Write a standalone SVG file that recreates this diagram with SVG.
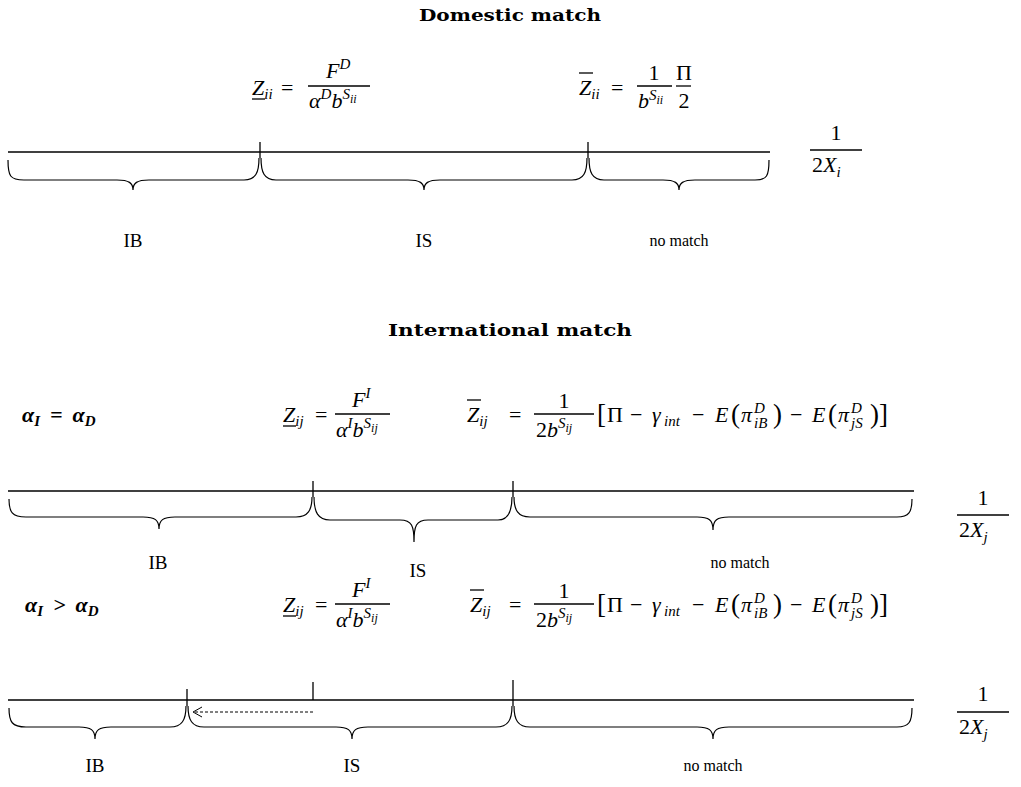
<svg xmlns="http://www.w3.org/2000/svg" width="1021" height="787" viewBox="0 0 1021 787">
<style>
.t{font-family:"DejaVu Serif","Liberation Serif",serif;font-weight:bold;font-size:17px;fill:#000;text-anchor:middle}
.lb{font-family:"Liberation Serif",serif;font-size:19px;fill:#000;text-anchor:middle}
.nm{font-family:"Liberation Serif",serif;font-size:16px;fill:#000;text-anchor:middle}
.m{font-family:"Liberation Serif",serif;font-style:italic;font-size:22px;fill:#000}
.r{font-family:"Liberation Serif",serif;font-size:22px;fill:#000}
.ab{font-family:"Liberation Serif",serif;font-style:italic;font-weight:bold;font-size:22px;fill:#000}
.c{text-anchor:middle}
.s{font-size:15px}
.ss{font-size:12px}
.big{font-size:27px}
.ln{stroke:#000;stroke-width:1.3;fill:none}
.br{stroke:#000;stroke-width:1.2;fill:none}
.fb{stroke:#000;stroke-width:1.3}
</style>
<defs>
<marker id="oa" markerWidth="12" markerHeight="12" refX="10" refY="6" orient="auto" markerUnits="userSpaceOnUse">
<path d="M1,1 L10,6 L1,11" fill="none" stroke="#000" stroke-width="1"/>
</marker>
</defs>

<g id="domestic">
<text class="t" x="510" y="21" textLength="182" lengthAdjust="spacingAndGlyphs">Domestic match</text>
<g id="eq-zii-low">
<text class="m" x="252" y="95">Z<tspan class="s" dy="4">ii</tspan></text>
<line class="fb" x1="252" y1="99" x2="265" y2="99"/>
<text class="r" x="281" y="95">=</text>
<line class="fb" x1="308" y1="86" x2="370" y2="86"/>
<text class="m" x="326" y="78">F<tspan class="s" dy="-9">D</tspan></text>
<text class="m" x="309" y="108">α<tspan class="s" dy="-9">D</tspan><tspan dy="9">b</tspan><tspan class="s" dy="-9">S</tspan><tspan class="ss" dy="4">ii</tspan></text>
</g>
<g id="eq-zii-high">
<text class="m" x="579" y="95">Z<tspan class="s" dy="4">ii</tspan></text>
<line class="fb" x1="579" y1="73" x2="593" y2="73"/>
<text class="r" x="611" y="95">=</text>
<line class="fb" x1="637" y1="86" x2="672" y2="86"/>
<text class="r c" x="654" y="80">1</text>
<text class="m" x="638" y="108">b<tspan class="s" dy="-8">S</tspan><tspan class="ss" dy="4">ii</tspan></text>
<line class="fb" x1="676" y1="86" x2="691" y2="86"/>
<text class="r c" x="684" y="80">Π</text>
<text class="r c" x="684" y="108">2</text>
</g>
<g id="frac-xi">
<text class="r c" x="836" y="140">1</text>
<line class="fb" x1="810" y1="150" x2="862" y2="150"/>
<text class="r" x="812" y="172">2<tspan font-style="italic">X</tspan><tspan class="s" font-style="italic" dy="5">i</tspan></text>
</g>
<g id="axis-1">
<line class="ln" x1="8" y1="152" x2="770" y2="152"/>
<line class="ln" x1="260" y1="142" x2="260" y2="158"/>
<line class="ln" x1="588" y1="142" x2="588" y2="158"/>
<path class="br" d="M8,160 C8,176 10,180 24,180 L117,180 C129,180 133,183 133,190 C133,183 137,180 149,180 L244,180 C256,180 259,172 259,158"/>
<path class="br" d="M261,158 C261,172 264,180 276,180 L408,180 C420,180 424,183 424,190 C424,183 428,180 440,180 L572,180 C584,180 587,172 587,158"/>
<path class="br" d="M589,158 C589,172 592,180 604,180 L663,180 C675,180 679,183 679,190 C679,183 683,180 695,180 L755,180 C767,180 769,176 769,160"/>
</g>
<text class="lb" x="133" y="247">IB</text>
<text class="lb" x="424" y="247">IS</text>
<text class="nm" x="679" y="246">no match</text>
</g>

<g id="international">
<text class="t" x="510" y="336" textLength="244" lengthAdjust="spacingAndGlyphs">International match</text>

<g id="case-equal">
<text class="ab" x="22" y="422">α<tspan class="s" dy="4">I</tspan><tspan dy="-4" dx="10">=</tspan><tspan dx="10">α</tspan><tspan class="s" dy="4">D</tspan></text>
<text class="m" x="283" y="422">Z<tspan class="s" dy="4">ij</tspan></text>
<line class="fb" x1="283" y1="426" x2="296" y2="426"/>
<text class="r" x="315" y="422">=</text>
<line class="fb" x1="335" y1="414" x2="390" y2="414"/>
<text class="m" x="352" y="407">F<tspan class="s" dy="-9">I</tspan></text>
<text class="m" x="336" y="437">α<tspan class="s" dy="-9">I</tspan><tspan dy="9">b</tspan><tspan class="s" dy="-9">S</tspan><tspan class="ss" dy="4">ij</tspan></text>
<text class="m" x="467" y="422">Z<tspan class="s" dy="4">ij</tspan></text>
<line class="fb" x1="467" y1="400" x2="481" y2="400"/>
<text class="r" x="509" y="422">=</text>
<line class="fb" x1="534" y1="414" x2="594" y2="414"/>
<text class="r c" x="564" y="408">1</text>
<text class="r" x="536" y="437">2<tspan font-style="italic">b</tspan><tspan class="s" font-style="italic" dy="-9">S</tspan><tspan class="ss" font-style="italic" dy="4">ij</tspan></text>
<g id="bracket-1">
<text class="r big" x="597" y="423">[</text>
<text class="r" x="607" y="422">Π</text>
<text class="r" x="630" y="422">−</text>
<text class="m" x="652" y="422">γ</text>
<text class="m s" x="664" y="426">int</text>
<text class="r" x="692" y="422">−</text>
<text class="m" x="715" y="422">E</text>
<text class="r big" x="731" y="423">(</text>
<text class="m" x="741" y="422">π</text>
<text class="m s" x="754" y="413">D</text>
<text class="m s" x="754" y="428">iB</text>
<text class="r big" x="773" y="423">)</text>
<text class="r" x="790" y="422">−</text>
<text class="m" x="812" y="422">E</text>
<text class="r big" x="828" y="423">(</text>
<text class="m" x="838" y="422">π</text>
<text class="m s" x="851" y="413">D</text>
<text class="m s" x="851" y="428">jS</text>
<text class="r big" x="870" y="423">)]</text>
</g>
<g id="frac-xj-1">
<text class="r c" x="983" y="505">1</text>
<line class="fb" x1="957" y1="515" x2="1009" y2="515"/>
<text class="r" x="959" y="537">2<tspan font-style="italic">X</tspan><tspan class="s" font-style="italic" dy="5">j</tspan></text>
</g>
<g id="axis-2">
<line class="ln" x1="8" y1="491" x2="914" y2="491"/>
<line class="ln" x1="313" y1="481" x2="313" y2="497"/>
<line class="ln" x1="513" y1="481" x2="513" y2="497"/>
<path class="br" d="M9,499 C9,512 12,517 26,517 L143,517 C155,517 159,520 159,529 C159,520 163,517 175,517 L296,517 C308,517 312,510 312,497"/>
<path class="br" d="M314,497 C314,512 318,520 330,520 L400,520 C412,520 414,526 414,542 C414,526 416,520 428,520 L498,520 C508,520 512,512 512,497"/>
<path class="br" d="M514,497 C514,510 518,517 530,517 L697,517 C709,517 713,520 713,530 C713,520 717,517 729,517 L897,517 C909,517 912,512 912,499"/>
</g>
<text class="lb" x="158" y="569">IB</text>
<text class="lb" x="418" y="577">IS</text>
<text class="nm" x="740" y="568">no match</text>
</g>

<g id="case-greater">
<text class="ab" x="25" y="612">α<tspan class="s" dy="4">I</tspan><tspan dy="-4" dx="10">&gt;</tspan><tspan dx="10">α</tspan><tspan class="s" dy="4">D</tspan></text>
<text class="m" x="283" y="612">Z<tspan class="s" dy="4">ij</tspan></text>
<line class="fb" x1="283" y1="616" x2="296" y2="616"/>
<text class="r" x="315" y="612">=</text>
<line class="fb" x1="335" y1="604" x2="390" y2="604"/>
<text class="m" x="352" y="597">F<tspan class="s" dy="-9">I</tspan></text>
<text class="m" x="336" y="627">α<tspan class="s" dy="-9">I</tspan><tspan dy="9">b</tspan><tspan class="s" dy="-9">S</tspan><tspan class="ss" dy="4">ij</tspan></text>
<text class="m" x="470" y="612">Z<tspan class="s" dy="4">ij</tspan></text>
<line class="fb" x1="470" y1="590" x2="484" y2="590"/>
<text class="r" x="509" y="612">=</text>
<line class="fb" x1="534" y1="604" x2="594" y2="604"/>
<text class="r c" x="564" y="598">1</text>
<text class="r" x="536" y="627">2<tspan font-style="italic">b</tspan><tspan class="s" font-style="italic" dy="-9">S</tspan><tspan class="ss" font-style="italic" dy="4">ij</tspan></text>
<g id="bracket-2">
<text class="r big" x="597" y="613">[</text>
<text class="r" x="607" y="612">Π</text>
<text class="r" x="630" y="612">−</text>
<text class="m" x="652" y="612">γ</text>
<text class="m s" x="664" y="616">int</text>
<text class="r" x="692" y="612">−</text>
<text class="m" x="715" y="612">E</text>
<text class="r big" x="731" y="613">(</text>
<text class="m" x="741" y="612">π</text>
<text class="m s" x="754" y="603">D</text>
<text class="m s" x="754" y="618">iB</text>
<text class="r big" x="773" y="613">)</text>
<text class="r" x="790" y="612">−</text>
<text class="m" x="812" y="612">E</text>
<text class="r big" x="828" y="613">(</text>
<text class="m" x="838" y="612">π</text>
<text class="m s" x="851" y="603">D</text>
<text class="m s" x="851" y="618">jS</text>
<text class="r big" x="870" y="613">)]</text>
</g>
<g id="frac-xj-2">
<text class="r c" x="983" y="701">1</text>
<line class="fb" x1="957" y1="712" x2="1009" y2="712"/>
<text class="r" x="959" y="734">2<tspan font-style="italic">X</tspan><tspan class="s" font-style="italic" dy="5">j</tspan></text>
</g>
<g id="axis-3">
<line class="ln" x1="8" y1="700" x2="914" y2="700"/>
<line class="ln" x1="187" y1="689" x2="187" y2="706"/>
<line class="ln" x1="313" y1="682" x2="313" y2="700"/>
<line class="ln" x1="513" y1="680" x2="513" y2="706"/>
<path class="br" d="M9,708 C9,722 12,727 26,727 L79,727 C91,727 95,730 95,739 C95,730 99,727 111,727 L170,727 C182,727 186,720 186,706"/>
<path class="br" d="M188,706 C188,720 192,727 204,727 L336,727 C348,727 352,730 352,739 C352,730 356,727 368,727 L496,727 C508,727 512,720 512,706"/>
<path class="br" d="M514,706 C514,720 518,727 530,727 L697,727 C709,727 713,730 713,739 C713,730 717,727 729,727 L897,727 C909,727 912,722 912,708"/>
</g>
<text class="lb" x="95" y="772">IB</text>
<text class="lb" x="352" y="772">IS</text>
<text class="nm" x="713" y="771">no match</text>
</g>
</g>

<g id="connectors">
<line x1="313" y1="712" x2="193" y2="712" stroke="#000" stroke-width="1" stroke-dasharray="3,2" marker-end="url(#oa)"/>
</g>
</svg>
